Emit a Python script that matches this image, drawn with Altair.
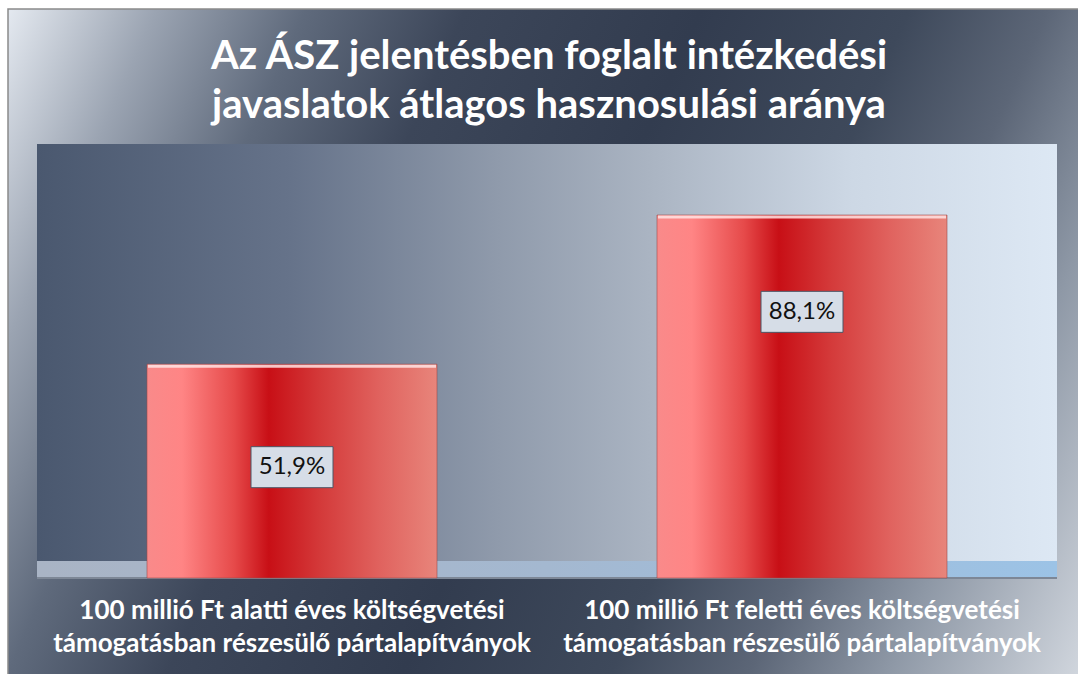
import altair as alt
import pandas as pd

# ---- data ----
categories = [
    "100 millió Ft alatti éves költségvetési\ntámogatásban részesülő pártalapítványok",
    "100 millió Ft feletti éves költségvetési\ntámogatásban részesülő pártalapítványok",
]
values = [51.9, 88.1]
value_labels = ["51,9%", "88,1%"]
label_pos = [26.9, 64.6]  # where the value box sits (in % units)
title_lines = "Az ÁSZ jelentésben foglalt intézkedési\njavaslatok átlagos hasznosulási aránya"

df = pd.DataFrame({
    "category": categories,
    "value": values,
    "label": value_labels,
    "label_pos": label_pos,
})

W, H = 1078, 674
FONT = "Lato"

xscale = alt.Scale(domain=categories, range=[37, 1057], paddingInner=0, paddingOuter=0)
yscale = alt.Scale(domain=[0, 100], range=[578, 166], nice=False, zero=True)

one = alt.Data(values=[{"k": 1}])


def grad(stops, x1=0, y1=0, x2=1, y2=0):
    return alt.LinearGradient(
        gradient="linear",
        stops=[alt.GradientStop(offset=o, color=c) for o, c in stops],
        x1=x1, y1=y1, x2=x2, y2=y2,
    )


outer_bg = alt.Chart(one).mark_rect(
    color=grad([
        (0.0, "#e4e9f0"), (0.107, "#9ba4b2"), (0.215, "#5f6a7c"),
        (0.33, "#3c4659"), (0.5, "#323c4f"), (0.65, "#3e495b"),
        (0.75, "#5c6677"), (0.85, "#8e98a6"), (1.0, "#d6dbe2"),
    ], x1=0, y1=0, x2=1.2, y2=0.336),
    stroke="#8a8a8a", strokeWidth=1.5,
).encode(x=alt.value(8), x2=alt.value(1080), y=alt.value(9), y2=alt.value(676))

plot_bg = alt.Chart(one).mark_rect(
    color=grad([
        (0.0, "#4a586f"), (0.25, "#66738a"), (0.45, "#8f9aab"),
        (0.6, "#aab4c2"), (0.8, "#cdd8e5"), (1.0, "#dde8f4"),
    ]),
).encode(x=alt.value(37), x2=alt.value(1057), y=alt.value(144), y2=alt.value(578))

floor = alt.Chart(one).mark_rect(
    color=grad([(0.0, "#a9b4c5"), (0.5, "#a4b8d0"), (1.0, "#9cc3e6")]),
).encode(x=alt.value(37), x2=alt.value(1057), y=alt.value(561), y2=alt.value(578))

floor_line = alt.Chart(one).mark_rule(color="#7d8796", strokeWidth=2).encode(
    x=alt.value(37), x2=alt.value(1057), y=alt.value(578)
)

base = alt.Chart(df)
X = alt.X("category:N", scale=xscale, axis=None, sort=categories)

bars = base.mark_bar(
    width=290,
    color=grad([
        (0.0, "#f98a8a"), (0.12, "#ff8585"), (0.3, "#e64a4a"),
        (0.42, "#c80f16"), (0.6, "#d43a3a"), (0.8, "#e0625e"), (1.0, "#e8857b"),
    ]),
    stroke="#9a4a4a", strokeWidth=0.6,
).encode(
    x=X,
    y=alt.Y("value:Q", scale=yscale, axis=None),
)

bevel = base.mark_tick(
    size=288, thickness=3, color="#ffe4e4", opacity=0.85, yOffset=2
).encode(
    x=X,
    y=alt.Y("value:Q", scale=yscale, axis=None),
)

boxes = base.mark_point(
    shape="M-1,-0.5H1V0.5H-1Z",
    size=82 * 82,
    filled=True,
    fill="#d6dde7",
    stroke="#4d5666",
    strokeWidth=1,
    opacity=1,
).encode(
    x=X,
    y=alt.Y("label_pos:Q", scale=yscale, axis=None),
)

box_text = base.mark_text(
    font=FONT, fontSize=24, color="#111111", baseline="middle", align="center"
).encode(
    x=X,
    y=alt.Y("label_pos:Q", scale=yscale, axis=None),
    text="label:N",
)

cat_text = base.mark_text(
    font=FONT, fontSize=26, fontWeight="bold", color="#ffffff",
    baseline="middle", align="center", lineBreak="\n", lineHeight=33,
).encode(
    x=X,
    y=alt.value(611),
    text="category:N",
)

title = alt.Chart(alt.Data(values=[{"t": title_lines}])).mark_text(
    font=FONT, fontSize=40, fontWeight="bold", color="#ffffff",
    baseline="middle", align="center", lineBreak="\n", lineHeight=49,
).encode(x=alt.value(549), y=alt.value(57), text="t:N")

chart = alt.layer(
    outer_bg, plot_bg, floor, floor_line, bars, bevel, boxes, box_text, cat_text, title
).properties(
    width=W, height=H, padding=0, autosize=alt.AutoSizeParams(type="none"),
    background="#ffffff",
).configure_view(stroke=None)

chart.save("out.html", embed_options={"renderer": "svg", "actions": False})
